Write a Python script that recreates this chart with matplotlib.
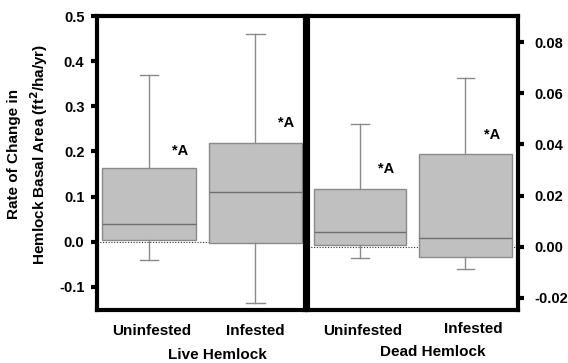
import matplotlib
matplotlib.use("Agg")
import matplotlib.pyplot as plt

plt.rcParams['font.family'] = ['Liberation Sans', 'DejaVu Sans']
plt.rcParams['font.weight'] = 'bold'
plt.rcParams['mathtext.default'] = 'bf'

groups = ["Uninfested", "Infested"]
# Live hemlock (left axis)
live_whislo = [-0.040, -0.136]
live_q1 = [0.003, -0.003]
live_med = [0.040, 0.111]
live_q3 = [0.164, 0.218]
live_whishi = [0.369, 0.460]
live_ann_y = [0.200, 0.262]
# Dead hemlock (right axis)
dead_whislo = [-0.0043, -0.0086]
dead_q1 = [0.0008, -0.0039]
dead_med = [0.0059, 0.0035]
dead_q3 = [0.0224, 0.0361]
dead_whishi = [0.0478, 0.0659]
dead_ann_y = [0.0305, 0.0435]

left_ticks = [-0.1, 0.0, 0.1, 0.2, 0.3, 0.4, 0.5]
right_ticks = [-0.02, 0.00, 0.02, 0.04, 0.06, 0.08]

fig = plt.figure(figsize=(5.68, 3.63), dpi=100)
axL = fig.add_axes([97/568, 1-310/363, 208/568, 294/363])
axR = fig.add_axes([308/568, 1-310/363, 210/568, 294/363])

fill = '#c0c0c0'
edge = '#8a8a8a'

def draw(ax, wl, q1, med, q3, wh):
    stats = []
    for i in range(len(groups)):
        stats.append(dict(whislo=wl[i], q1=q1[i], med=med[i], q3=q3[i], whishi=wh[i], fliers=[]))
    ax.bxp(stats, positions=[1, 2], widths=0.88, patch_artist=True, showfliers=False,
           boxprops=dict(facecolor=fill, edgecolor=edge, linewidth=1.0),
           medianprops=dict(color='#6f6f6f', linewidth=1.0),
           whiskerprops=dict(color=edge, linewidth=1.0),
           capprops=dict(color=edge, linewidth=1.0),
           capwidths=0.17, manage_ticks=False)
    ax.axhline(0, color='#333333', linestyle=(0, (1, 1.5)), linewidth=0.8, zorder=0.5)
    for s in ax.spines.values():
        s.set_linewidth(3)
        s.set_color('black')
    ax.tick_params(axis='x', length=0, labelsize=11)

draw(axL, live_whislo, live_q1, live_med, live_q3, live_whishi)
axL.set_xlim(0.512, 2.465)
axL.set_ylim(-0.151, 0.5)
axL.set_xticks([1.03, 2.0])
axL.set_yticks(left_ticks)
axL.set_yticklabels([f"{t:.1f}" for t in left_ticks])
axL.tick_params(axis='y', length=4, width=3, labelsize=10.5, pad=5)
axL.tick_params(axis='x', pad=10)
axL.set_xticklabels(groups, fontweight='bold')
axL.set_ylabel("Rate of Change in\nHemlock Basal Area (ft$^2$/ha/yr)", fontsize=11, fontweight='bold',
               linespacing=1.45)
axL.yaxis.set_label_coords(-0.225, 0.53)
axL.set_xlabel("Live Hemlock", fontsize=11, fontweight='bold')
axL.xaxis.set_label_coords(0.58, -0.13)
for x, y in zip([1, 2], live_ann_y):
    axL.text(x + 0.29, y, "*A", fontsize=10.5, fontweight='bold', ha='center', va='center')

draw(axR, dead_whislo, dead_q1, dead_med, dead_q3, dead_whishi)
axR.set_xlim(0.507, 2.498)
axR.set_ylim(-0.0247, 0.0902)
axR.set_xticks([1.03, 2.07])
axR.yaxis.tick_right()
axR.set_yticks(right_ticks)
axR.set_yticklabels([f"{t:.2f}" for t in right_ticks])
axR.tick_params(axis='y', length=4, width=3, labelsize=10.5, pad=8)
axR.tick_params(axis='x', pad=10)
axR.set_xticklabels(groups, fontweight='bold')
axR.get_xticklabels()[1].set_y(0.008)
axR.set_xlabel("Dead Hemlock", fontsize=11, fontweight='bold')
axR.xaxis.set_label_coords(0.595, -0.12)
for x, y in zip([1, 2], dead_ann_y):
    axR.text(x + 0.25, y, "*A", fontsize=10.5, fontweight='bold', ha='center', va='center')

fig.savefig("out.png", dpi=100)
